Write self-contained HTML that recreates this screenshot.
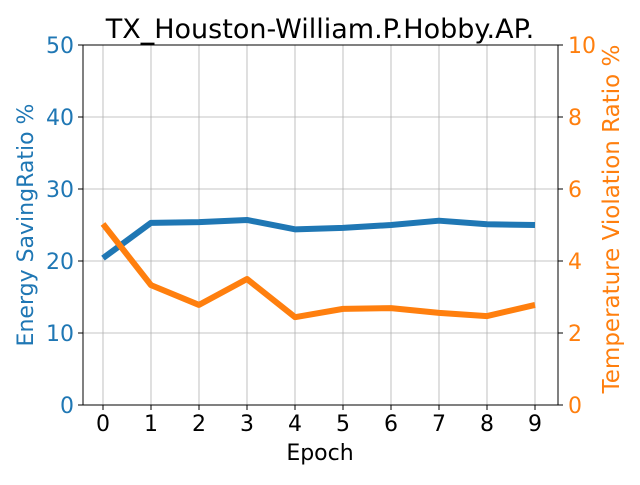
<!DOCTYPE html>
<html><head><meta charset="utf-8"><style>
body{margin:0;background:#fff;width:640px;height:480px;overflow:hidden}
svg{font-family:"DejaVu Sans",sans-serif}
</style></head><body>
<svg id="chart" width="640" height="480"></svg>
<script>
const epochs=[0,1,2,3,4,5,6,7,8,9];
const energySaving=[20.4,25.3,25.4,25.7,24.4,24.6,25.0,25.6,25.1,25.0];
const tempViolation=[5.03,3.33,2.78,3.5,2.44,2.67,2.69,2.56,2.47,2.78];
const leftTicks=[0,10,20,30,40,50];
const rightTicks=[0,2,4,6,8,10];
const L=83,R=558,T=45,B=405;
const sx=e=>103+e*48;
const syL=v=>B-(v/50)*(B-T);
const syR=v=>B-(v/10)*(B-T);
const svg=document.getElementById('chart');
const NS='http://www.w3.org/2000/svg';
function mk(tag,attrs,parent){const el=document.createElementNS(NS,tag);for(const k in attrs)el.setAttribute(k,attrs[k]);(parent||svg).appendChild(el);return el;}
function txt(s,attrs){const t=mk('text',attrs);t.textContent=s;return t;}
epochs.forEach(e=>{const g=mk('line',{x1:sx(e),x2:sx(e),y1:T,y2:B,stroke:'#b0b0b0','stroke-width':0.8});

});
leftTicks.forEach(v=>{const g=mk('line',{x1:L,x2:R,y1:syL(v),y2:syL(v),stroke:'#b0b0b0','stroke-width':0.8});

});
function line(vals,sy,color,name){const p=mk('polyline',{points:vals.map((v,i)=>sx(epochs[i])+','+sy(v)).join(' '),fill:'none',stroke:color,'stroke-width':6,'stroke-linejoin':'round'});

}
line(energySaving,syL,'#1f77b4','energy-saving-line');
line(tempViolation,syR,'#ff7f0e','temp-violation-line');
const f=mk('rect',{x:L,y:T,width:R-L,height:B-T,fill:'none',stroke:'#000','stroke-width':1});


epochs.forEach(e=>{mk('line',{x1:sx(e),x2:sx(e),y1:B,y2:B+5,stroke:'#000'});
const t=txt(String(e),{x:sx(e),y:B+26,'font-size':22,'text-anchor':'middle',fill:'#000'});

});
leftTicks.forEach(v=>{mk('line',{x1:L-5,x2:L,y1:syL(v),y2:syL(v),stroke:'#000'});
const t=txt(String(v),{x:L-9,y:syL(v)+8,'font-size':22,'text-anchor':'end',fill:'#1f77b4'});

});
rightTicks.forEach(v=>{mk('line',{x1:R,x2:R+5,y1:syR(v),y2:syR(v),stroke:'#000'});
const t=txt(String(v),{x:R+10,y:syR(v)+8,'font-size':22,'text-anchor':'start',fill:'#ff7f0e'});

});
</script>
<svg width="640" height="480" style="position:absolute;left:0;top:0">
<text x="320" y="38" font-size="27" text-anchor="middle" font-family="DejaVu Sans,sans-serif">TX_Houston-William.P.Hobby.AP.</text>
<text x="320" y="460" font-size="22" text-anchor="middle" font-family="DejaVu Sans,sans-serif">Epoch</text>
<text transform="translate(33,225) rotate(-90)" font-size="22" text-anchor="middle" fill="#1f77b4" font-family="DejaVu Sans,sans-serif">Energy SavingRatio %</text>
<text transform="translate(619,219) rotate(-90)" font-size="23" text-anchor="middle" fill="#ff7f0e" font-family="DejaVu Sans,sans-serif">Temperature Violation Ratio %</text>
</svg>
</body></html>
